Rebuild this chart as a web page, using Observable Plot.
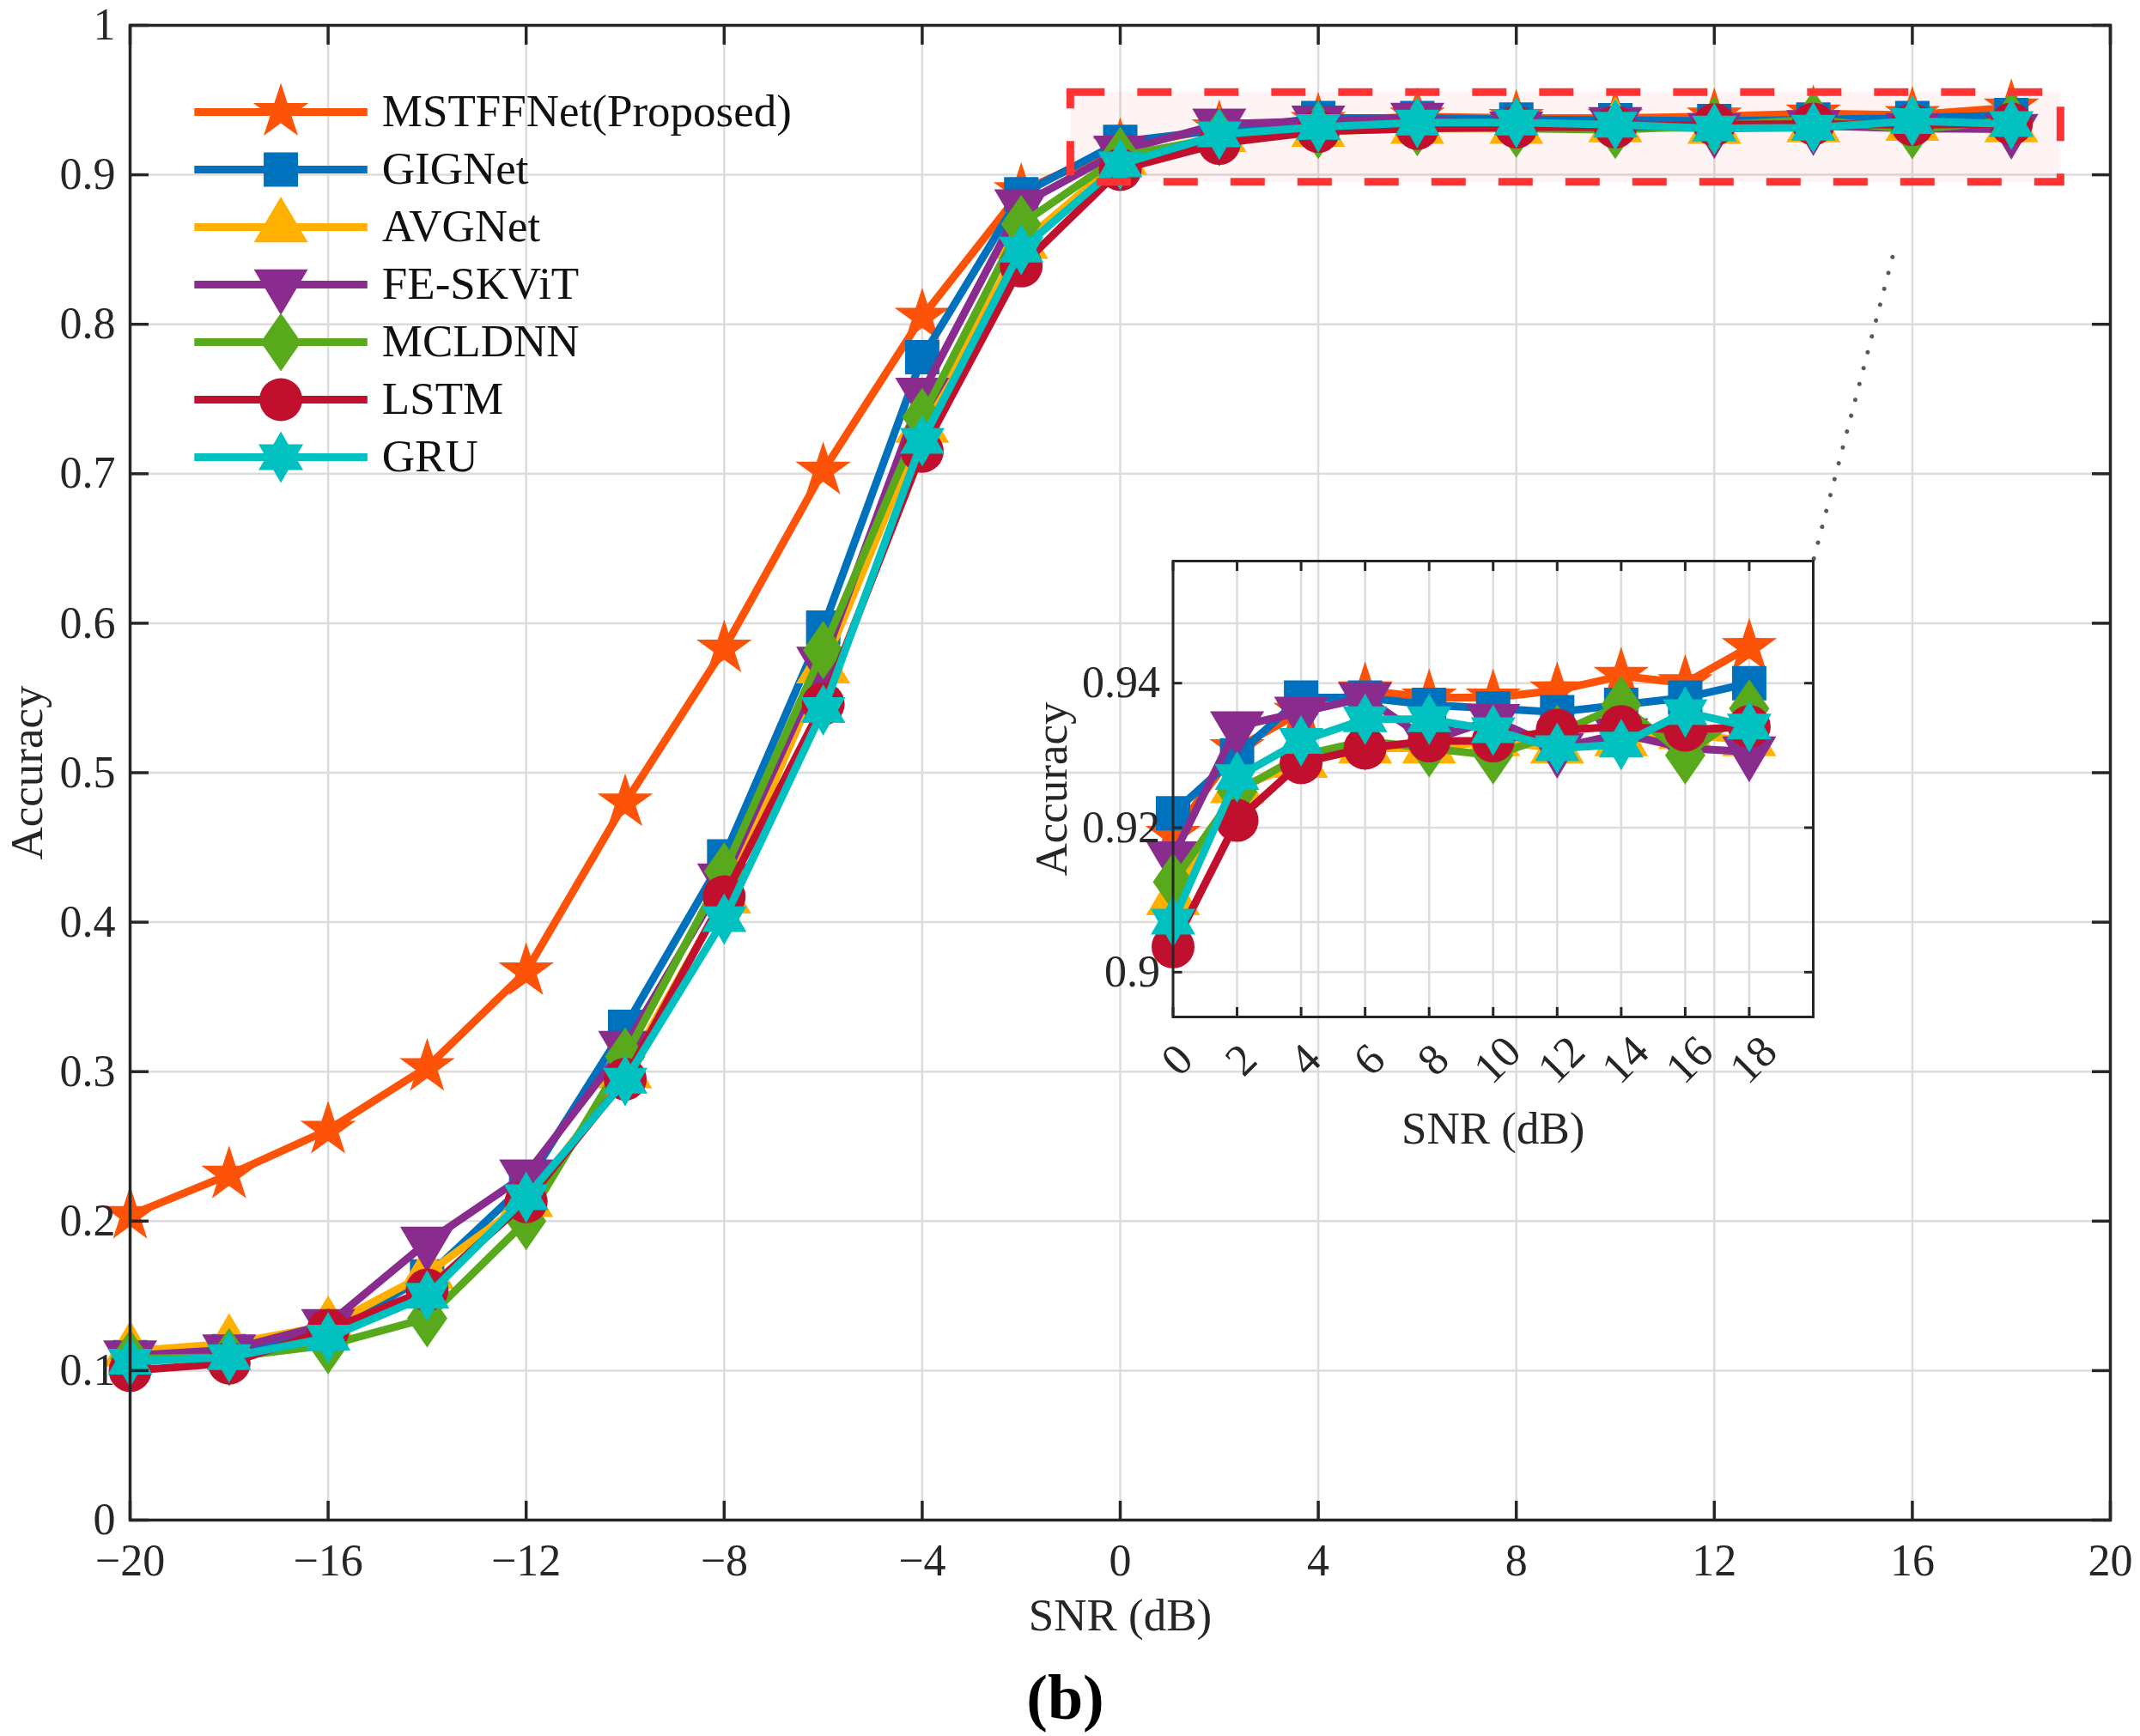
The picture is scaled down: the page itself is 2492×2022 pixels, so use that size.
<!DOCTYPE html>
<html><head><meta charset="utf-8">
<script src="https://cdn.jsdelivr.net/npm/d3@7"></script>
<script src="https://cdn.jsdelivr.net/npm/@observablehq/plot@0.6"></script>
<style>
html,body{margin:0;padding:0;background:#fff;overflow:hidden;}
#wrap{position:relative;width:2492px;height:2022px;background:#fff;}
</style></head><body><div id="wrap"></div>
<script>
// ---------------- data ----------------
const snr = [-20,-18,-16,-14,-12,-10,-8,-6,-4,-2,0,2,4,6,8,10,12,14,16,18];
const seriesNames = ["MSTFFNet(Proposed)","GIGNet","AVGNet","FE-SKViT","MCLDNN","LSTM","GRU"];
const seriesColors = ["#fc5308","#0072bd","#ffb000","#8a2b8e","#58a91c","#c0102d","#00c0c0"];
const mstffnet = [0.204,0.231,0.261,0.303,0.367,0.480,0.583,0.702,0.805,0.889,0.919,0.931,0.936,0.939,0.938,0.938,0.939,0.941,0.940,0.945];
const gignet   = [0.109,0.113,0.126,0.163,0.225,0.330,0.444,0.597,0.778,0.887,0.922,0.930,0.938,0.938,0.937,0.9365,0.936,0.937,0.938,0.940];
const avgnet   = [0.113,0.118,0.130,0.165,0.213,0.299,0.416,0.570,0.731,0.854,0.910,0.9255,0.929,0.931,0.931,0.932,0.931,0.932,0.933,0.932];
const feskvit  = [0.110,0.114,0.131,0.186,0.231,0.317,0.429,0.574,0.754,0.880,0.916,0.934,0.936,0.938,0.932,0.935,0.931,0.933,0.931,0.9305];
const mcldnn   = [0.108,0.109,0.117,0.135,0.200,0.310,0.434,0.582,0.738,0.867,0.9125,0.925,0.930,0.932,0.931,0.930,0.933,0.937,0.930,0.9365];
const lstm     = [0.100,0.105,0.127,0.154,0.213,0.295,0.417,0.546,0.715,0.839,0.9035,0.921,0.929,0.931,0.932,0.932,0.9335,0.934,0.9335,0.934];
const gru      = [0.106,0.109,0.122,0.150,0.216,0.294,0.402,0.542,0.722,0.850,0.907,0.927,0.932,0.935,0.935,0.9335,0.931,0.9315,0.936,0.934];
const seriesValues = [mstffnet,gignet,avgnet,feskvit,mcldnn,lstm,gru];

const xTicks = [-20,-16,-12,-8,-4,0,4,8,12,16,20];
const yTicks = [0,0.1,0.2,0.3,0.4,0.5,0.6,0.7,0.8,0.9,1];
const insetXTicks = [0,2,4,6,8,10,12,14,16,18];
const insetYTicks = [0.9,0.92,0.94];
const zoomBox = [{x1:-1.0, x2:19.0, y1:0.895, y2:0.955}];
const zoomLink = [{x1:15.6, y1:0.845, x2:14.0, y2:0.642}];

// ---------------- helpers ----------------
const rows = [];
seriesNames.forEach((name, i) => snr.forEach((s, j) => rows.push({model: name, snr: s, acc: seriesValues[i][j]})));
const insetRows = rows.filter(d => d.snr >= 0);

function poly(pts) {
  return {draw(ctx, size) {
    const k = Math.sqrt(size / Math.PI) / 10;
    pts.forEach(([x, y], i) => i ? ctx.lineTo(x * k, y * k) : ctx.moveTo(x * k, y * k));
    ctx.closePath();
  }};
}
function starPts(n, R, ri) {
  const p = [];
  for (let i = 0; i < 2 * n; i++) {
    const a = -Math.PI / 2 + i * Math.PI / n, r = i % 2 ? ri : R;
    p.push([r * Math.cos(a), r * Math.sin(a)]);
  }
  return p;
}
const circleSym = {draw(ctx, size) { const r = 25 * Math.sqrt(size / Math.PI) / 10; ctx.moveTo(r, 0); ctx.arc(0, 0, r, 0, 2 * Math.PI); ctx.closePath(); }};
const symbols = [
  poly(starPts(5, 34, 13)),
  poly([[-20,-20],[20,-20],[20,20],[-20,20]]),
  poly([[0,-35.5],[31.5,17.8],[-31.5,17.8]]),
  poly([[0,35.5],[31.5,-17.8],[-31.5,-17.8]]),
  poly([[0,-34],[23.5,0],[0,34],[-23.5,0]]),
  circleSym,
  poly(starPts(6, 30, 17.3))
];

const FONT = "Liberation Serif, Times New Roman, serif";
const INK = "#262626";
const minusFmt = d => d < 0 ? "\u2212" + Math.abs(d) : String(d);

function seriesMarks(data) {
  const marks = [];
  seriesNames.forEach((name, i) => {
    const sub = data.filter(d => d.model === name);
    marks.push(Plot.line(sub, {x: "snr", y: "acc", stroke: seriesColors[i], strokeWidth: 9, strokeLinejoin: "round"}));
    marks.push(Plot.dot(sub, {x: "snr", y: "acc", r: 10, symbol: symbols[i], fill: seriesColors[i], stroke: "none"}));
  });
  return marks;
}

// ---------------- main chart ----------------
const main = Plot.plot({
  width: 2492, height: 2022,
  marginLeft: 151, marginRight: 35, marginTop: 29, marginBottom: 252,
  style: {fontFamily: FONT, fontSize: "52px", color: INK, background: "transparent", position: "absolute", left: "0px", top: "0px"},
  x: {domain: [-20, 20]},
  y: {domain: [0, 1]},
  marks: [
    Plot.gridX(xTicks, {stroke: "#dcdcdc", strokeOpacity: 1, strokeWidth: 2.5}),
    Plot.gridY(yTicks, {stroke: "#dcdcdc", strokeOpacity: 1, strokeWidth: 2.5}),
    Plot.rect(zoomBox, {x1: "x1", x2: "x2", y1: "y1", y2: "y2", fill: "#ff0000", fillOpacity: 0.045}),
    ...seriesMarks(rows),
    Plot.rect(zoomBox, {x1: "x1", x2: "x2", y1: "y1", y2: "y2", fill: "none", stroke: "#ff3333", strokeWidth: 9, strokeDasharray: "40,38"}),
    Plot.link(zoomLink, {x1: "x1", y1: "y1", x2: "x2", y2: "y2", stroke: "#5a5a5a", strokeWidth: 5, strokeLinecap: "round", strokeDasharray: "0.1,19"}),
    Plot.frame({stroke: INK, strokeWidth: 3.5}),
    Plot.axisX({ticks: xTicks, tickFormat: minusFmt, tickSize: -22, tickPadding: 50, label: null, fontSize: 52, fontFamily: FONT, strokeWidth: 3.5}),
    Plot.axisX({anchor: "top", ticks: xTicks, tickFormat: () => "", tickSize: -22, label: null, strokeWidth: 3.5}),
    Plot.axisY({ticks: yTicks, tickFormat: d => String(d), tickSize: -22, tickPadding: 39, label: null, fontSize: 52, fontFamily: FONT, strokeWidth: 3.5}),
    Plot.axisY({anchor: "right", ticks: yTicks, tickFormat: () => "", tickSize: -22, label: null, strokeWidth: 3.5}),
    Plot.text(["SNR (dB)"], {text: d => d, frameAnchor: "bottom", dy: 112, textAnchor: "middle", lineAnchor: "middle", fontSize: 53, fontFamily: FONT, fill: INK}),
    Plot.text(["Accuracy"], {text: d => d, frameAnchor: "left", dx: -119, rotate: -90, textAnchor: "middle", lineAnchor: "middle", fontSize: 53, fontFamily: FONT, fill: INK}),
    Plot.text(["(b)"], {text: d => d, frameAnchor: "bottom", dx: -64, dy: 208, textAnchor: "middle", lineAnchor: "middle", fontSize: 74, fontWeight: "bold", fontFamily: FONT, fill: "#000"})
  ]
});

// ---------------- inset ----------------
const inset = Plot.plot({
  width: 1031, height: 784,
  marginLeft: 265.5, marginRight: 20, marginTop: 53, marginBottom: 200,
  style: {fontFamily: FONT, fontSize: "52px", color: INK, background: "transparent", position: "absolute", left: "1100px", top: "600px"},
  x: {domain: [0, 20]},
  y: {domain: [0.8938, 0.9569]},
  marks: [
    Plot.gridX(insetXTicks, {stroke: "#dcdcdc", strokeOpacity: 1, strokeWidth: 2.5}),
    Plot.gridY(insetYTicks, {stroke: "#dcdcdc", strokeOpacity: 1, strokeWidth: 2.5}),
    ...seriesMarks(insetRows),
    Plot.frame({stroke: INK, strokeWidth: 3}),
    Plot.axisX({ticks: insetXTicks, tickFormat: () => "", tickSize: -11, label: null, strokeWidth: 3}),
    Plot.axisX({anchor: "top", ticks: insetXTicks, tickFormat: () => "", tickSize: -11, label: null, strokeWidth: 3}),
    Plot.axisY({ticks: insetYTicks, tickFormat: d => String(d), tickSize: -11, tickPadding: 26, label: null, fontSize: 52, fontFamily: FONT, strokeWidth: 3}),
    Plot.axisY({anchor: "right", ticks: insetYTicks, tickFormat: () => "", tickSize: -11, label: null, strokeWidth: 3}),
    Plot.text(insetXTicks, {x: d => d, text: d => String(d), frameAnchor: "bottom", dx: 5, dy: 50, rotate: -45, textAnchor: "middle", lineAnchor: "middle", fontSize: 52, fontFamily: FONT, fill: INK}),
    Plot.text(["SNR (dB)"], {text: d => d, frameAnchor: "bottom", dy: 131, textAnchor: "middle", lineAnchor: "middle", fontSize: 53, fontFamily: FONT, fill: INK}),
    Plot.text(["Accuracy"], {text: d => d, frameAnchor: "left", dx: -141, rotate: -90, textAnchor: "middle", lineAnchor: "middle", fontSize: 53, fontFamily: FONT, fill: INK})
  ]
});

// ---------------- legend ----------------
const legendRows = seriesNames.map((name, i) => ({name, i}));
const legendMarks = [];
legendRows.forEach(d => {
  legendMarks.push(Plot.link([d], {x1: () => 0, x2: () => 1, y1: "name", y2: "name", stroke: seriesColors[d.i], strokeWidth: 9}));
  legendMarks.push(Plot.dot([d], {x: () => 0.5, y: "name", r: 10, symbol: symbols[d.i], fill: seriesColors[d.i], stroke: "none"}));
});
legendMarks.push(Plot.text(legendRows, {x: () => 1, y: "name", text: "name", dx: 17, textAnchor: "start", lineAnchor: "middle", fontSize: 53, fontFamily: FONT, fill: "#111"}));
const legend = Plot.plot({
  width: 1000, height: 600,
  margin: 0,
  style: {fontFamily: FONT, fontSize: "52px", color: INK, background: "transparent", position: "absolute", left: "0px", top: "0px"},
  x: {domain: [0, 1], range: [225.8, 427.3], axis: null},
  y: {type: "point", domain: seriesNames, range: [127.7, 535], padding: 0, axis: null},
  marks: legendMarks
});

const wrap = document.getElementById("wrap");
wrap.appendChild(main);
wrap.appendChild(inset);
wrap.appendChild(legend);
</script>
</body></html>
